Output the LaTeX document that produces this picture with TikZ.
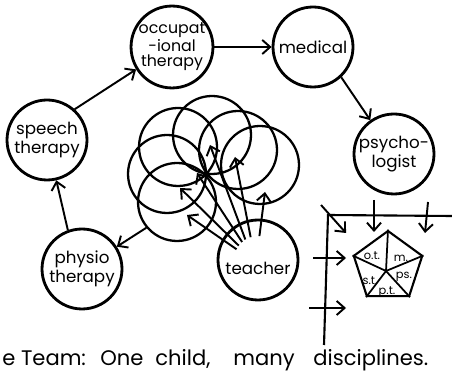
\documentclass[tikz,border=0pt]{standalone}
\usepackage{fontspec}
\setmainfont{Poppins}
\usetikzlibrary{arrows.meta,shapes.geometric}

\begin{document}
\begin{tikzpicture}[x=0.02cm,y=-0.02cm,
    disc/.style={draw,circle,line width=1.6pt,minimum size=1.6cm,inner sep=0pt,
      align=center,font=\fontsize{9.5}{10.5}\selectfont},
    ring/.style={draw,circle,line width=1.3pt,minimum size=1.56cm,inner sep=0pt},
    arr/.style={line width=1.1pt,-{Straight Barb[length=4.5pt,width=8pt]}},
    pull/.style={arr,shorten <=-0.35cm},
    edge/.style={line width=1.2pt},
    word/.style={anchor=base west,inner sep=0pt,font=\fontsize{12}{14}\selectfont},
    tag/.style={inner sep=0pt,font=\fontsize{6.5}{7}\selectfont}]
  \useasboundingbox (0,0) rectangle (452,377);
  \node[disc,font=\fontsize{9}{8.5}\selectfont] (occ) at (172,47) {occupat\\-ional\\therapy};
  \node[disc] (medical) at (313,47) {medical};
  \node[disc] (psych) at (394,154) {psycho-\\logist};
  \node[disc] (speech) at (47,140) {speech\\therapy};
  \node[disc] (physio) at (82,269) {physio\\therapy};
  \node[disc,label={[font=\fontsize{9.5}{10.5}\selectfont,yshift=-0.16cm]center:teacher}] (teacher) at (258,260) {};
  \node[ring] (c1) at (177,202) {};
  \node[ring] (c2) at (167,174) {};
  \node[ring] (c3) at (178,147) {};
  \node[ring] (c4) at (212,135) {};
  \node[ring] (c5) at (238,150) {};
  \node[ring] (c6) at (260,165) {};
  \coordinate (t1) at (187,215);
  \coordinate (t2) at (180,188);
  \coordinate (t3) at (197,173);
  \coordinate (t4) at (210,145);
  \coordinate (t5) at (235,157);
  \coordinate (t6) at (265,192);
  \draw[pull] (teacher.150) -- (t1);
  \draw[pull] (teacher.140) -- (t2);
  \draw[pull] (teacher.128) -- (t3);
  \draw[pull] (teacher.117) -- (t4);
  \draw[pull] (teacher.105) -- (t5);
  \draw[pull] (teacher.85) -- (t6);
  \draw[arr] (speech.48) -- (occ.212);
  \draw[arr] (occ.east) -- (medical.west);
  \draw[arr] (medical.-47) -- (psych.125);
  \draw[arr] (c1.220) -- (physio);
  \draw[arr] (physio.110) -- (speech.283);
  \coordinate (corner) at (328,215);
  \coordinate (hend) at (452,216);
  \coordinate (vend) at (324,345);
  \coordinate (d0) at (321,205);
  \coordinate (d1) at (346,233);
  \coordinate (a0) at (374,200);
  \coordinate (a1) at (374,232);
  \coordinate (b0) at (428,202);
  \coordinate (b1) at (425,233);
  \coordinate (e0) at (313,258);
  \coordinate (e1) at (346,258);
  \coordinate (f0) at (309,308);
  \coordinate (f1) at (346,308);
  \draw[edge] (hend) -- (corner) -- (vend);
  \draw[arr] (d0) -- (d1);
  \draw[arr] (a0) -- (a1);
  \draw[arr] (b0) -- (b1);
  \draw[arr] (e0) -- (e1);
  \draw[arr] (f0) -- (f1);
  \node[draw,regular polygon,regular polygon sides=5,line width=1.2pt,
    minimum size=1.44cm,inner sep=0pt] (pent) at (388,267) {};
  \coordinate (hub) at (386,271);
  \foreach \k in {1,...,5}
    \draw[line width=1pt] (hub) -- (pent.corner \k);
  \node[tag] (ot) at (372,256) {o.t.};
  \node[tag] (m) at (401,258) {m.};
  \node[tag] (st) at (370,281) {s.t.};
  \node[tag] (ps) at (404,277) {ps.};
  \node[tag] (pt) at (387,292) {p.t.};
  \node[word] (w1) at (2,365) {e Team:};
  \node[word] (w2) at (100,365) {One};
  \node[word] (w3) at (155,365) {child,};
  \node[word] (w4) at (233,365) {many};
  \node[word] (w5) at (313,365) {disciplines.};
\end{tikzpicture}
\end{document}
